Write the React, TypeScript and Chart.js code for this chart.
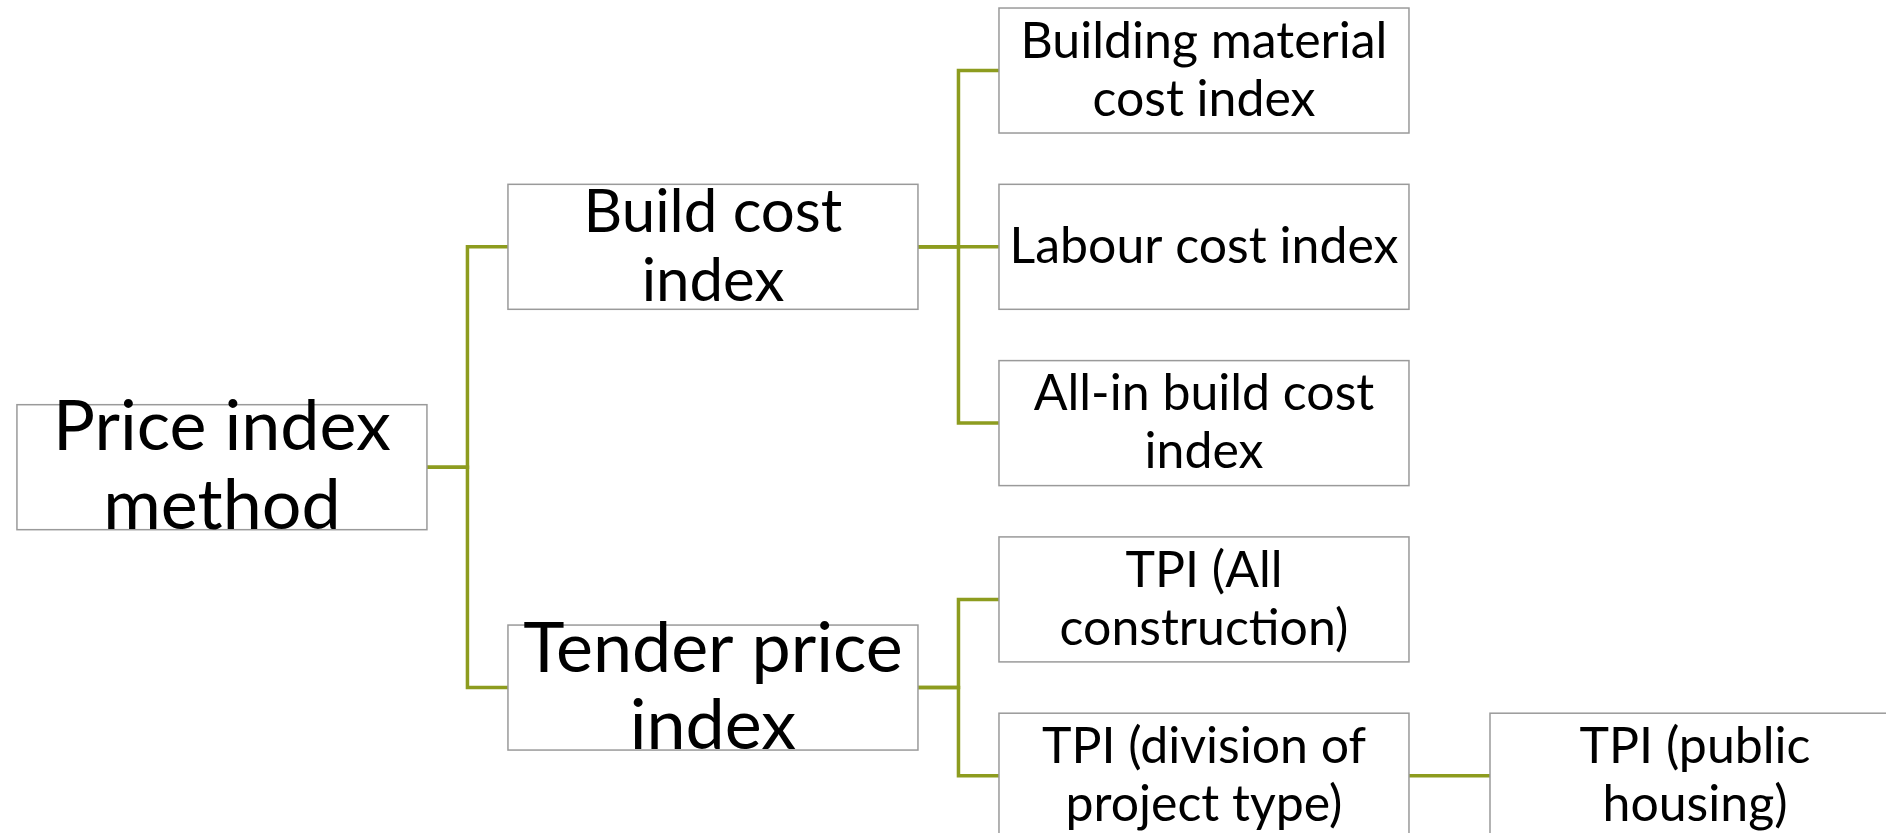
import React, { useEffect, useRef } from "react";
import { Chart, registerables } from "chart.js";
Chart.register(...registerables);

// Tree nodes
const nodeLabels: string[][] = [
  ["Price index", "method"],
  ["Build cost", "index"],
  ["Tender price", "index"],
  ["Building material", "cost index"],
  ["Labour cost index"],
  ["All-in build cost", "index"],
  ["TPI (All", "construction)"],
  ["TPI (division of", "project type)"],
  ["TPI (public", "housing)"],
];
const nodeLevels: number[] = [0, 1, 1, 2, 2, 2, 2, 2, 3];
const nodeRows: number[] = [2.25, 1, 3.5, 0, 1, 2, 3, 4, 4];
const nodeParents: number[] = [-1, 0, 0, 1, 1, 1, 2, 2, 7];
const nodeFontSizes: number[] = [70, 60, 70, 50, 50, 50, 50, 50, 50];
const nodeLineHeights: number[] = [79, 69, 77, 58, 58, 58, 58, 58, 58];

const BOX_W = 0.835; // in level units
const BOX_H = 0.709; // in row units
const LINE_COLOR = "#8D9C1F";
const BOX_BORDER = "#9A9A9A";
const FONT = "Lato, 'Noto Sans', sans-serif";

const treePlugin = {
  id: "tree",
  afterDatasetsDraw(chart: any) {
    const ctx = chart.ctx;
    const xs = chart.scales.x;
    const ys = chart.scales.y;
    const px = (v: number) => xs.getPixelForValue(v);
    const py = (v: number) => ys.getPixelForValue(v);
    ctx.save();
    // connectors
    ctx.strokeStyle = LINE_COLOR;
    ctx.lineWidth = 3.5;
    ctx.lineCap = "butt";
    nodeLevels.forEach((lv, i) => {
      const p = nodeParents[i];
      if (p < 0) return;
      const plv = nodeLevels[p];
      const x0 = px(plv + BOX_W / 2);
      const xm = px(plv + 0.5);
      const x1 = px(lv - BOX_W / 2);
      const y0 = py(nodeRows[p]);
      const y1 = py(nodeRows[i]);
      ctx.beginPath();
      ctx.moveTo(x0, y0);
      ctx.lineTo(xm, y0);
      ctx.lineTo(xm, y1);
      ctx.lineTo(x1, y1);
      ctx.stroke();
    });
    // boxes
    nodeLevels.forEach((lv, i) => {
      const l = px(lv - BOX_W / 2);
      const r = px(lv + BOX_W / 2);
      const t = py(nodeRows[i] - BOX_H / 2);
      const b = py(nodeRows[i] + BOX_H / 2);
      ctx.fillStyle = "#ffffff";
      ctx.fillRect(l, t, r - l, b - t);
      ctx.strokeStyle = BOX_BORDER;
      ctx.lineWidth = 1.5;
      ctx.strokeRect(l, t, r - l, b - t);
    });
    // text
    nodeLevels.forEach((lv, i) => {
      const fs = nodeFontSizes[i];
      ctx.font = `${fs}px ${FONT}`;
      ctx.fillStyle = "#000000";
      ctx.textAlign = "center";
      ctx.textBaseline = "middle";
      const lines = nodeLabels[i];
      const lh = nodeLineHeights[i];
      const cx = px(lv);
      const cy = py(nodeRows[i]);
      lines.forEach((ln, k) => {
        const y = cy + (k - (lines.length - 1) / 2) * lh;
        ctx.fillText(ln, cx, y);
      });
    });
    ctx.restore();
  },
};

export default function App() {
  const ref = useRef<HTMLCanvasElement | null>(null);
  useEffect(() => {
    if (!ref.current) return;
    const chart = new Chart(ref.current, {
      type: "scatter",
      data: {
        datasets: [
          {
            data: nodeLevels.map((lv, i) => ({ x: lv, y: nodeRows[i] })),
            pointRadius: 0,
            showLine: false,
          },
        ],
      },
      options: {
        animation: false,
        responsive: true,
        maintainAspectRatio: false,
        layout: { padding: 0 },
        plugins: { legend: { display: false }, tooltip: { enabled: false } },
        events: [],
        scales: {
          x: { type: "linear", min: -0.452, max: 3.389, display: false },
          y: { type: "linear", min: -0.4, max: 4.325, reverse: true, display: false },
        },
      },
      plugins: [treePlugin],
    });
    return () => chart.destroy();
  }, []);
  return (
    <div style={{ position: "fixed", left: 0, top: 0, width: 1886, height: 833, background: "#fff" }}>
      <canvas ref={ref} />
    </div>
  );
}
